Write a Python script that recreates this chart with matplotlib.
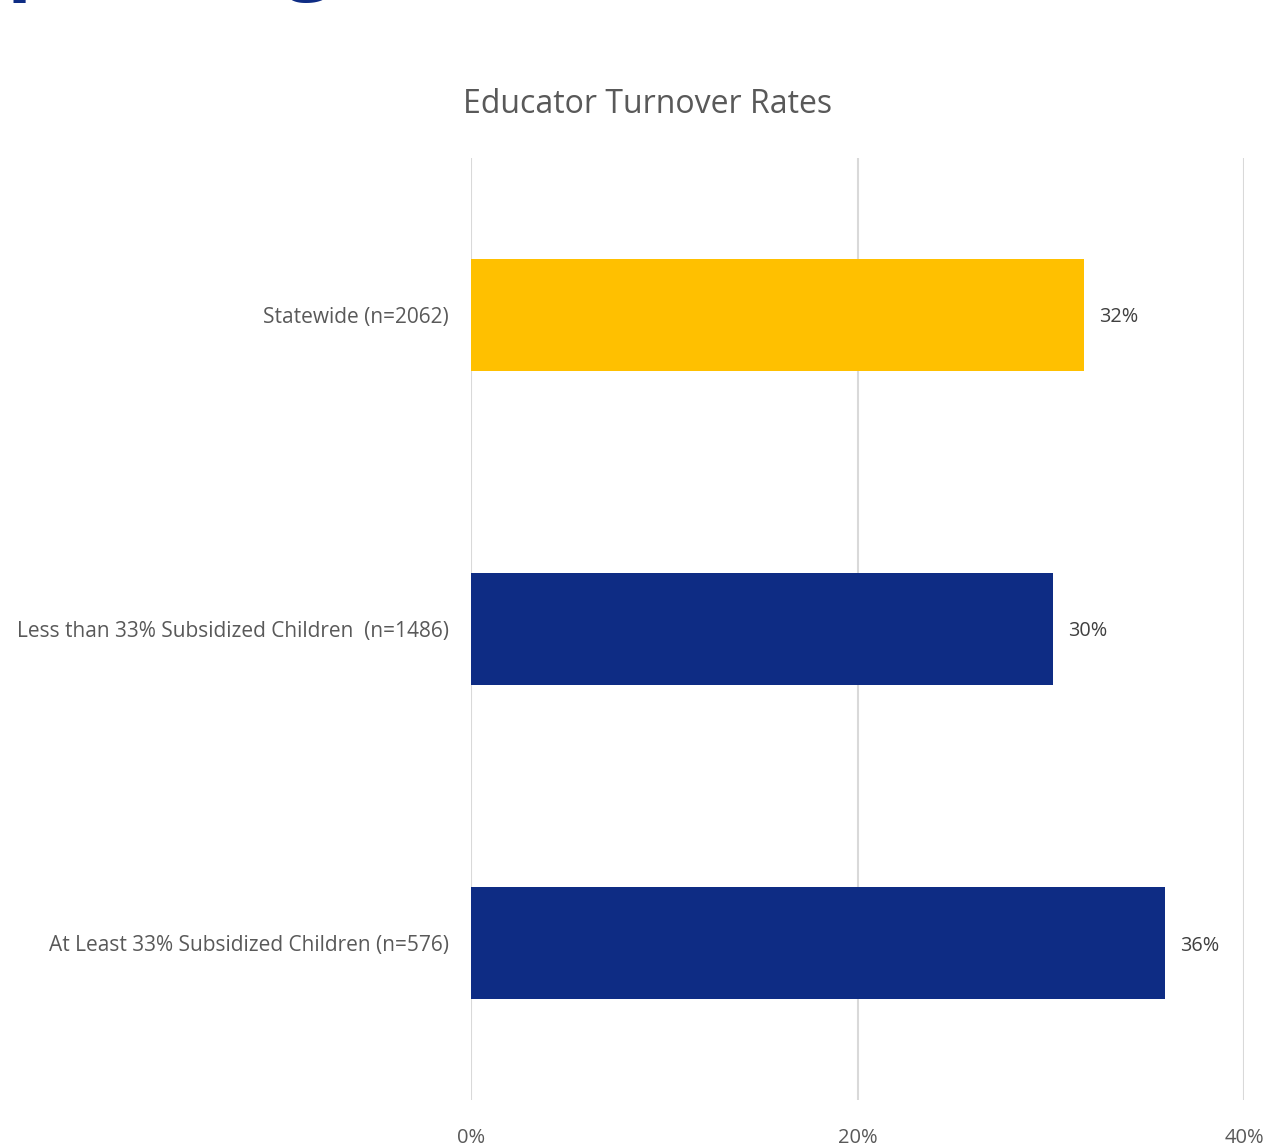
import matplotlib.pyplot as plt

categorias = ['Statewide (n=2062)',
              'Less than 33% Subsidized Children  (n=1486)',
              'At Least 33% Subsidized Children (n=576)']
tasas = [31.7, 30.1, 35.9]
colores = ['#FFC000', '#0E2C84', '#0E2C84']
ticks_x = [0, 20, 40]

plt.rcParams['font.family'] = ['Open Sans', 'DejaVu Sans']
gris = '#595959'

fig = plt.figure(figsize=(12.69, 11.48), dpi=100)
ax = fig.add_axes([0.3712, 0.0418, 0.6091, 0.8206])

y = list(range(len(categorias)))
ax.barh(y, tasas, height=0.355, color=colores, zorder=3)
for yi, v in zip(y, tasas):
    ax.text(v + 0.8, yi, f'{v:.0f}%', va='center_baseline', ha='left',
            fontsize=14.3, color='#404040')

ax.set_xlim(0, 40)
ax.set_ylim(2.5, -0.5)
ax.set_xticks(ticks_x)
ax.set_xticklabels([f'{t}%' for t in ticks_x], fontsize=14.5, color=gris)
ax.set_yticks(y)
ax.set_yticklabels(categorias, fontsize=15, color=gris)
ax.tick_params(axis='x', length=0, pad=20)
ax.tick_params(axis='y', length=0, pad=16)
ax.grid(axis='x', color='#D9D9D9', lw=1.5, zorder=0)
for s in ax.spines.values():
    s.set_visible(False)

fig.text(0.5099, 0.909, 'Educator Turnover Rates', ha='center', va='center',
         fontsize=23, color=gris)

# restos del encabezado de la diapositiva, recortados por el borde
fig.text(0.005, 1.015, 'p', ha='left', va='baseline', fontsize=60,
         fontweight='bold', color='#0E2C84')
fig.text(0.225, 1.015, 'g', ha='left', va='baseline', fontsize=60,
         fontweight='bold', color='#0E2C84')

fig.savefig('out.png', dpi=100)
